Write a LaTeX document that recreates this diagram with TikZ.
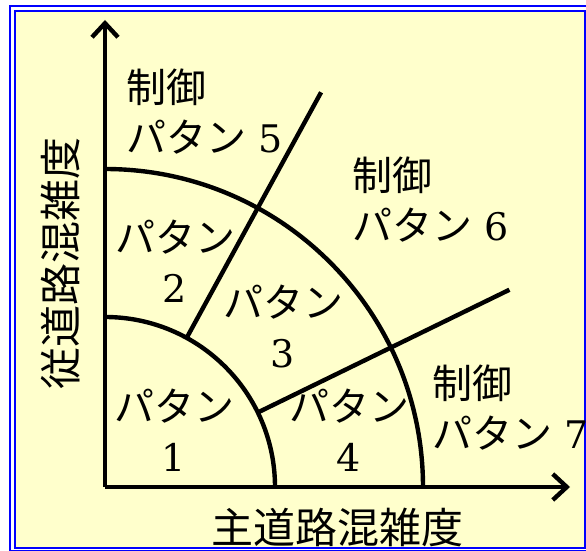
\documentclass[tikz,border=0pt]{standalone}
\usepackage{fontspec}
\newfontfamily\jpfont{Noto Sans CJK JP}
\newfontfamily\digitfont{DejaVu Serif}
\usetikzlibrary{arrows.meta}
\definecolor{paper}{HTML}{FFFFCC}
\definecolor{frameblue}{HTML}{0000FF}
\tikzset{
  region/.style={font=\jpfont\fontsize{40}{50}\selectfont,align=center,inner sep=0pt},
  ctrl/.style={font=\jpfont\fontsize{40}{50}\selectfont,align=left,anchor=west,inner sep=0pt},
  axislabel/.style={font=\jpfont\fontsize{42}{46}\selectfont,inner sep=0pt},
  border/.style={draw=frameblue,line width=2pt},
  boundary/.style={line width=4.4pt},
}
\newcommand{\dg}[1]{{\digitfont\fontsize{38}{50}\selectfont #1}}

\begin{document}
\begin{tikzpicture}[x=1pt,y=1pt]
  \useasboundingbox (-105,-64) rectangle (481,487);
  % frame
  \fill[white] (-105,-64) rectangle (481,487);
  \draw[border] (-95,481) rectangle (500,-64);
  \draw[border,fill=paper,line width=1.6pt] (-90,476) rectangle (480,-61);
  % axes
  \coordinate (O) at (0,0);
  \coordinate (xend) at (465,0);
  \coordinate (yend) at (0,467);
  \draw[boundary,-{Straight Barb[length=14pt,width=26pt,line width=4.4pt]}] (O) -- (xend);
  \draw[boundary,-{Straight Barb[length=14pt,width=26pt,line width=4.4pt]}] (O) -- (yend);
  % arcs
  \draw[boundary] (170,0) arc (0:90:170);
  \draw[boundary] (318,0) arc (0:90:318);
  % dividing rays
  \coordinate (a1) at (61.3:170);
  \coordinate (a2) at (61.3:450);
  \coordinate (b1) at (26:170);
  \coordinate (b2) at (26:450);
  \draw[boundary] (a1) -- (a2);
  \draw[boundary] (b1) -- (b2);
  % labels
  \node[region] (p1) at (69,57) {パタン\\\dg{1}};
  \node[region] (p2) at (70,226) {パタン\\\dg{2}};
  \node[region] (p3) at (178,161) {パタン\\\dg{3}};
  \node[region] (p4) at (244,57) {パタン\\\dg{4}};
  \node[ctrl] (p5) at (21,375) {制御\\パタン\hspace{0.3em}\dg{5}};
  \node[ctrl] (p6) at (247,287) {制御\\パタン\hspace{0.3em}\dg{6}};
  \node[ctrl] (p7) at (327,79) {制御\\パタン\hspace{0.3em}\dg{7}};
  \node[axislabel] (xl) at (232,-40) {主道路混雑度};
  \node[axislabel,rotate=90] (yl) at (-44,223) {従道路混雑度};
\end{tikzpicture}
\end{document}
